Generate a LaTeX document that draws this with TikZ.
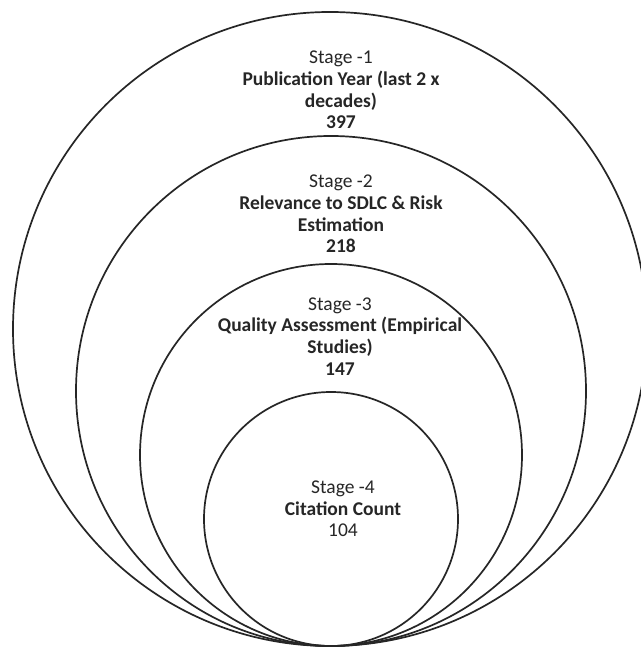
\documentclass[tikz,border=0pt]{standalone}
\usepackage{fontspec}
\setmainfont{Carlito}
\begin{document}
\begin{tikzpicture}[x=1pt,y=1pt,
  ring/.style={draw=black!85, line width=1.7pt},
  lbl/.style={align=center, inner sep=0pt, text=black!85,
    font=\fontsize{19.5}{21.7}\selectfont}]
\useasboundingbox (0,0) rectangle (640,648);
\fill[white] (0,0) rectangle (640,648);
\draw[ring] (330,319) circle (317);
\draw[ring] (331,257) circle (255);
\draw[ring] (331,193) circle (191);
\draw[ring] (331,129) circle (127);
\node[lbl] (s1) at (341,558) {Stage -1\\\textbf{Publication Year (last 2 x}\\\textbf{decades)}\\\textbf{397}};
\node[lbl] (s2) at (341,434) {Stage -2\\\textbf{Relevance to SDLC \& Risk}\\\textbf{Estimation}\\\textbf{218}};
\node[lbl] (s3) at (340,311.5) {Stage -3\\\textbf{Quality Assessment (Empirical}\\\textbf{Studies)}\\\textbf{147}};
\node[lbl] (s4) at (343,139) {Stage -4\\\textbf{Citation Count}\\104};
\end{tikzpicture}
\end{document}
